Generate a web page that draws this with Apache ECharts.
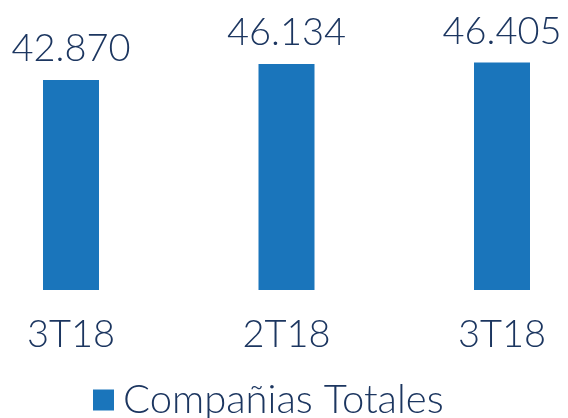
<!DOCTYPE html>
<html>
<head>
<meta charset="utf-8">
<script src="https://cdn.jsdelivr.net/npm/echarts@6/dist/echarts.min.js"></script>
<style>
  html, body { margin: 0; padding: 0; background: #ffffff; }
  #chart { width: 568px; height: 418px; }
</style>
</head>
<body>
<div id="chart"></div>
<script>
// Quarter labels along the x axis
const categories = ['3T18', '2T18', '3T18'];
// Total companies per quarter
const companias = [42870, 46134, 46405];
const seriesName = 'Compañias Totales';

const textColor = '#1c3660';
const barColor = '#1a75bb';
const fontFamily = 'Lato, "Open Sans", sans-serif';

// Spanish thousands separator: 42870 -> 42.870
function fmt(v) {
  return String(v).replace(/\B(?=(\d{3})+(?!\d))/g, '.');
}

const chart = echarts.init(document.getElementById('chart'), null, { renderer: 'canvas' });
chart.setOption({
  animation: false,
  grid: { left: 71, right: 66, top: 45, bottom: 128 },
  legend: {
    data: [seriesName],
    left: 88,
    top: 372,
    padding: 5,
    itemWidth: 21,
    itemHeight: 21,
    itemGap: 11,
    icon: 'rect',
    textStyle: { color: textColor, fontSize: 40, lineHeight: 46, fontFamily: fontFamily, fontWeight: 300, padding: [0, 0, 0, 4] }
  },
  xAxis: {
    type: 'category',
    data: categories,
    boundaryGap: false,
    axisLine: { show: false },
    axisTick: { show: false },
    axisLabel: { color: textColor, fontSize: 38, fontFamily: fontFamily, fontWeight: 300, margin: 26 }
  },
  yAxis: {
    type: 'value',
    min: 0,
    max: 50000,
    show: false
  },
  series: [{
    name: seriesName,
    type: 'bar',
    data: companias,
    barWidth: 56,
    itemStyle: { color: barColor },
    label: {
      show: true,
      position: 'top',
      distance: 12,
      color: textColor,
      fontSize: 38,
      fontFamily: fontFamily,
      fontWeight: 300,
      formatter: p => fmt(p.value)
    }
  }]
});
</script>
</body>
</html>
